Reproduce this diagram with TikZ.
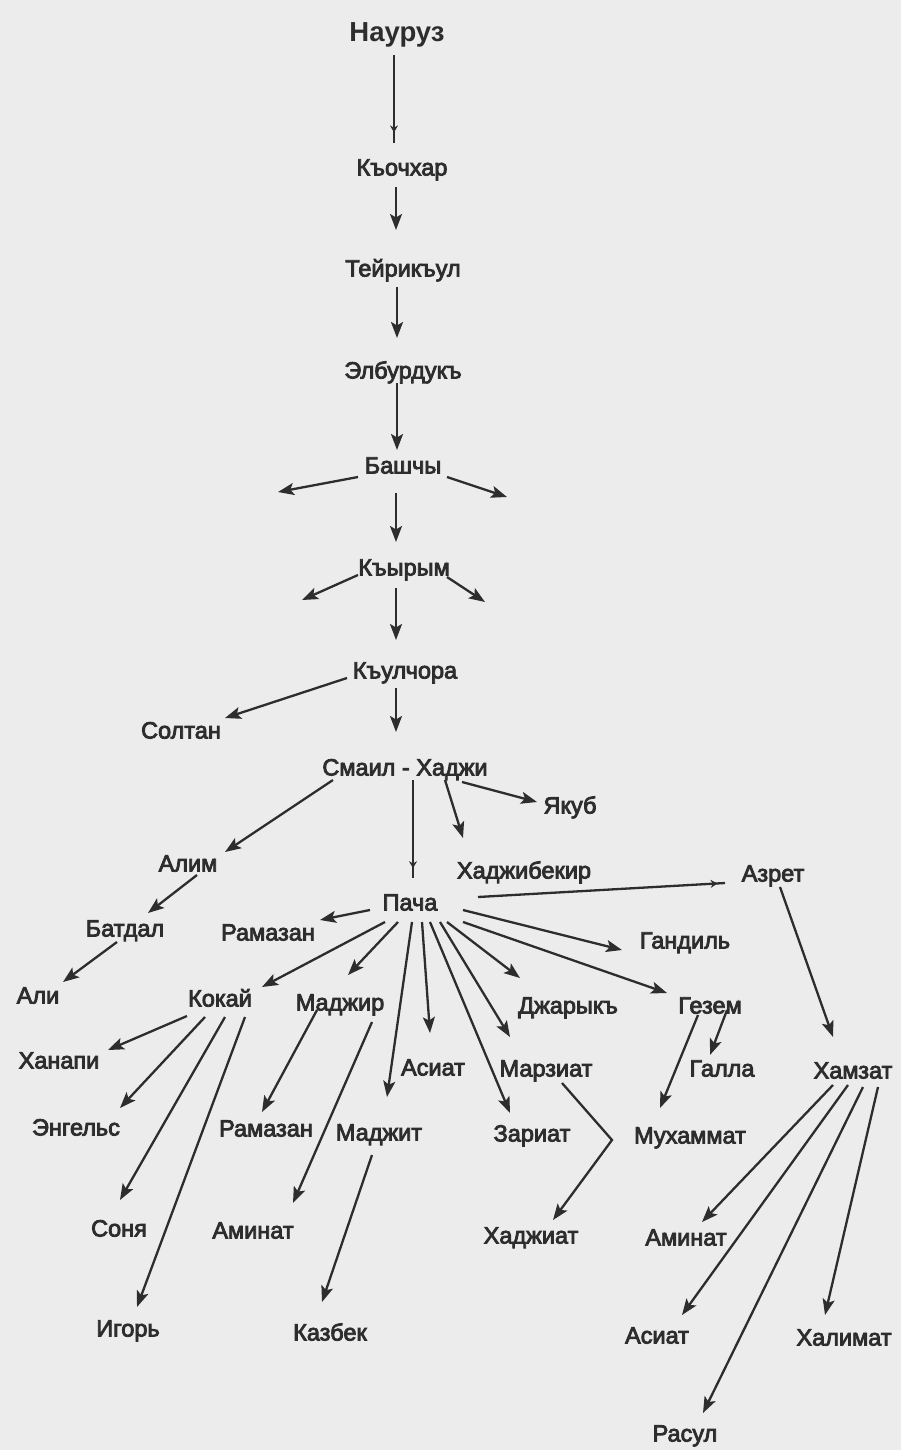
\documentclass[tikz,border=0pt]{standalone}
\usepackage{fontspec}
\setmainfont{Liberation Sans}
\newfontfamily\thick[FakeBold=3.5]{Liberation Sans}
\usetikzlibrary{arrows.meta,decorations.markings}
\definecolor{paper}{RGB}{236,236,236}
\definecolor{ink}{RGB}{45,45,45}
\newcommand\lnk[4]{\draw[arr] ([shift={(#2)}]#1.center) -- ([shift={(#4)}]#3.center);}
\newcommand\tick[4]{\draw[ln,postaction={decorate},decoration={markings,mark=at position #4 with {\arrow{Stealth[length=7pt,width=8pt]}}}] ([shift={(#2)}]#1.center) -- (#3);}
\begin{document}
\begin{tikzpicture}[x=1pt,y=-1pt,
  nm/.style={inner sep=0pt,anchor=center,text height=17pt,text depth=0pt,text=ink,font=\thick\fontsize{23.5}{24}\selectfont},
  ln/.style={draw=ink,line width=2.3pt},
  arr/.style={ln,-{Stealth[length=16pt,width=12pt,inset=3.5pt]}}]
\fill[paper] (0,0) rectangle (901,1450);
\useasboundingbox (0,0) rectangle (901,1450);
% nodes
\node[nm,text height=20pt,font=\fontsize{27.5}{28}\selectfont\bfseries] (nauruz) at (397,32) {Науруз};
\node[nm] (kochhar) at (402,167) {Къочхар};
\node[nm] (teyr) at (403,268) {Тейрикъул};
\node[nm] (elbur) at (403,370) {Элбурдукъ};
\node[nm] (bashchy) at (403,465) {Башчы};
\node[nm] (krym) at (404,567) {Къырым};
\node[nm] (kulchora) at (405,670) {Къулчора};
\node[nm] (soltan) at (181,730) {Солтан};
\node[nm] (smail) at (405,767) {Смаил - Хаджи};
\node[nm] (yakub) at (570,805) {Якуб};
\node[nm] (alim) at (188,863) {Алим};
\node[nm] (hadzhibekir) at (524,870) {Хаджибекир};
\node[nm] (pacha) at (410,902) {Пача};
\node[nm] (azret) at (773,873) {Азрет};
\node[nm] (batdal) at (125,928) {Батдал};
\node[nm] (ramazan1) at (268,932) {Рамазан};
\node[nm] (gandil) at (685,940) {Гандиль};
\node[nm] (ali) at (38,995) {Али};
\node[nm] (kokai) at (220,998) {Кокай};
\node[nm] (madzhir) at (340,1002) {Маджир};
\node[nm] (dzharyk) at (568,1005) {Джарыкъ};
\node[nm] (gezem) at (710,1005) {Гезем};
\node[nm] (hanapi) at (59,1060) {Ханапи};
\node[nm] (asiat1) at (433,1067) {Асиат};
\node[nm] (marziat) at (546,1068) {Марзиат};
\node[nm] (galla) at (722,1068) {Галла};
\node[nm] (hamzat) at (853,1070) {Хамзат};
\node[nm] (engels) at (76,1127) {Энгельс};
\node[nm] (ramazan2) at (266,1128) {Рамазан};
\node[nm] (madzhit) at (379,1132) {Маджит};
\node[nm] (zariat) at (532,1133) {Зариат};
\node[nm] (muhammat) at (690,1135) {Мухаммат};
\node[nm] (sonya) at (119,1228) {Соня};
\node[nm] (aminat1) at (253,1230) {Аминат};
\node[nm] (hadzhiat) at (531,1235) {Хаджиат};
\node[nm] (aminat2) at (686,1237) {Аминат};
\node[nm] (igor) at (128,1328) {Игорь};
\node[nm] (kazbek) at (330,1332) {Казбек};
\node[nm] (asiat2) at (657,1335) {Асиат};
\node[nm] (halimat) at (844,1337) {Халимат};
\node[nm] (rasul) at (685,1433) {Расул};
% free ends and bends
\coordinate (bL) at (278,492);
\coordinate (bR) at (507,497);
\coordinate (kL) at (302,600);
\coordinate (kR) at (485,602);
\coordinate (bend) at (612,1140);
\coordinate (naurEnd) at ([shift={(-8,-24)}]kochhar.center);
\coordinate (smailEnd) at ([shift={(3,-24)}]pacha.center);
\coordinate (azretEnd) at ([shift={(-48,10)}]azret.center);
% main line
\tick{nauruz}{-3,23}{naurEnd}{0.88}
\lnk{kochhar}{-6,20}{teyr}{-7,-38}
\lnk{teyr}{-6,19}{elbur}{-6,-32}
\lnk{elbur}{-6,13}{bashchy}{-6,-15}
\draw[arr] ([shift={(-45,12)}]bashchy.center) -- (bL);
\draw[arr] ([shift={(44,12)}]bashchy.center) -- (bR);
\lnk{bashchy}{-7,28}{krym}{-8,-25}
\draw[arr] ([shift={(-46,8)}]krym.center) -- (kL);
\draw[arr] ([shift={(43,10)}]krym.center) -- (kR);
\lnk{krym}{-8,21}{kulchora}{-9,-30}
\lnk{kulchora}{-58,8}{soltan}{44,-12}
\lnk{kulchora}{-9,18}{smail}{-9,-35}
\lnk{smail}{-72,13}{alim}{37,-11}
\tick{smail}{8,13}{smailEnd}{0.9}
\lnk{smail}{40,13}{hadzhibekir}{-61,-32}
\lnk{smail}{57,15}{yakub}{-33,-3}
\lnk{alim}{9,12}{batdal}{23,-15}
\lnk{batdal}{-8,14}{ali}{25,-13}
% Pacha
\lnk{pacha}{-40,8}{ramazan1}{52,-12}
\tick{pacha}{68,-5}{azretEnd}{0.97}
\lnk{pacha}{-25,20}{kokai}{42,-11}
\lnk{pacha}{-12,20}{madzhir}{8,-27}
\lnk{pacha}{2,20}{madzhit}{8,-35}
\lnk{pacha}{12,20}{asiat1}{-3,-34}
\lnk{pacha}{20,20}{zariat}{-22,-20}
\lnk{pacha}{30,20}{marziat}{-36,-31}
\lnk{pacha}{37,20}{dzharyk}{-48,-27}
\lnk{pacha}{53,20}{gezem}{-43,-12}
\lnk{pacha}{53,8}{gandil}{-63,10}
\lnk{azret}{7,14}{hamzat}{-20,-33}
\lnk{gezem}{17,5}{galla}{-12,-13}
\lnk{gezem}{-12,10}{muhammat}{-30,-27}
\draw[arr] ([shift={(16,15)}]marziat.center) -- (bend) -- ([shift={(22,-15)}]hadzhiat.center);
% Kokai
\lnk{kokai}{-33,18}{hanapi}{49,-10}
\lnk{kokai}{-15,19}{engels}{44,-19}
\lnk{kokai}{5,19}{sonya}{1,-28}
\lnk{kokai}{25,19}{igor}{9,-21}
% Madzhir, Madzhit
\lnk{madzhir}{-23,8}{ramazan2}{-4,-16}
\lnk{madzhir}{32,20}{aminat1}{40,-27}
\lnk{madzhit}{-7,23}{kazbek}{-8,-30}
% Hamzat
\lnk{hamzat}{-20,15}{aminat2}{16,-15}
\lnk{hamzat}{-5,15}{asiat2}{25,-20}
\lnk{hamzat}{10,17}{rasul}{18,-20}
\lnk{hamzat}{25,17}{halimat}{-19,-22}
\end{tikzpicture}
\end{document}
